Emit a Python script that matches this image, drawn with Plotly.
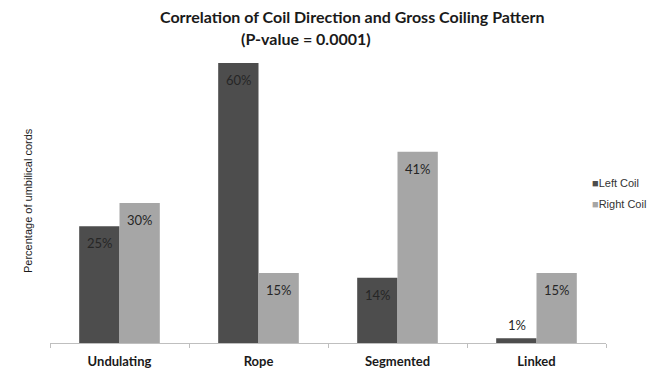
import plotly.graph_objects as go

categories = ["Undulating", "Rope", "Segmented", "Linked"]
left_coil = [25, 60, 14, 1]
right_coil = [30, 15, 41, 15]
series_names = ["Left Coil", "Right Coil"]

DARK = "#4d4d4d"
LIGHT = "#a6a6a6"
TEXT = "#1a1a1a"
LABEL_FONT = dict(family="Lato", size=13, color="#262626")

fig = go.Figure()
for name, vals, col in [(series_names[0], left_coil, DARK), (series_names[1], right_coil, LIGHT)]:
    fig.add_trace(go.Bar(
        x=categories, y=vals, name=name,
        marker=dict(color=col, line=dict(width=0)),
        showlegend=False, hoverinfo="x+y+name",
    ))

# value labels: inside near the top, or just above very short bars
annotations = []
for offset, vals in [(-20, left_coil), (20, right_coil)]:
    for cat, v in zip(categories, vals):
        annotations.append(dict(
            x=cat, y=v, xref="x", yref="y", text=f"{v}%", showarrow=False,
            xshift=offset, yshift=-17 if v >= 5 else 13,
            xanchor="center", yanchor="middle", font=LABEL_FONT,
        ))

# title, axis title and legend keys
annotations += [
    dict(text="<b>Correlation of Coil Direction and Gross Coiling Pattern</b>",
         xref="paper", yref="paper", x=(352 - 50) / 556, y=(343 - 17) / 280,
         xanchor="center", yanchor="middle", showarrow=False,
         font=dict(family="Lato", size=16, color=TEXT)),
    dict(text="<b>(P-value = 0.0001)</b>",
         xref="paper", yref="paper", x=(306 - 50) / 556, y=(343 - 38) / 280,
         xanchor="center", yanchor="middle", showarrow=False,
         font=dict(family="Lato", size=16, color=TEXT)),
    dict(text="Percentage of umbilical cords",
         xref="paper", yref="paper", x=(28 - 50) / 556, y=(343 - 201) / 280,
         xanchor="center", yanchor="middle", showarrow=False, textangle=-90,
         font=dict(family="Liberation Sans", size=11, color=TEXT)),
]
for i, (name, col) in enumerate([(series_names[0], DARK), (series_names[1], LIGHT)]):
    annotations.append(dict(
        text=f"<span style='color:{col}'>■</span>{name}",
        xref="paper", yref="paper", x=(590 - 50) / 556, y=(343 - (183 + 21 * i)) / 280,
        xanchor="left", yanchor="middle", showarrow=False,
        font=dict(family="Liberation Sans", size=11, color="#333333"),
    ))

fig.update_layout(
    width=659, height=371,
    margin=dict(l=50, r=53, t=63, b=28, autoexpand=False),
    paper_bgcolor="white", plot_bgcolor="white",
    barmode="group", bargap=0.42, bargroupgap=0,
    showlegend=False,
    xaxis=dict(
        showline=True, linecolor="#bfbfbf", linewidth=1,
        ticks="outside", tickson="boundaries", ticklen=4, tickcolor="#bfbfbf",
        tickfont=dict(family="Lato", size=13, color=TEXT, weight="bold"),
        ticklabelstandoff=6,
        showgrid=False, zeroline=False, fixedrange=True,
    ),
    yaxis=dict(
        range=[0, 60], showticklabels=False, showgrid=False, zeroline=False,
        showline=False, ticks="", fixedrange=True,
    ),
    annotations=annotations,
)

fig.write_html("out.html")
